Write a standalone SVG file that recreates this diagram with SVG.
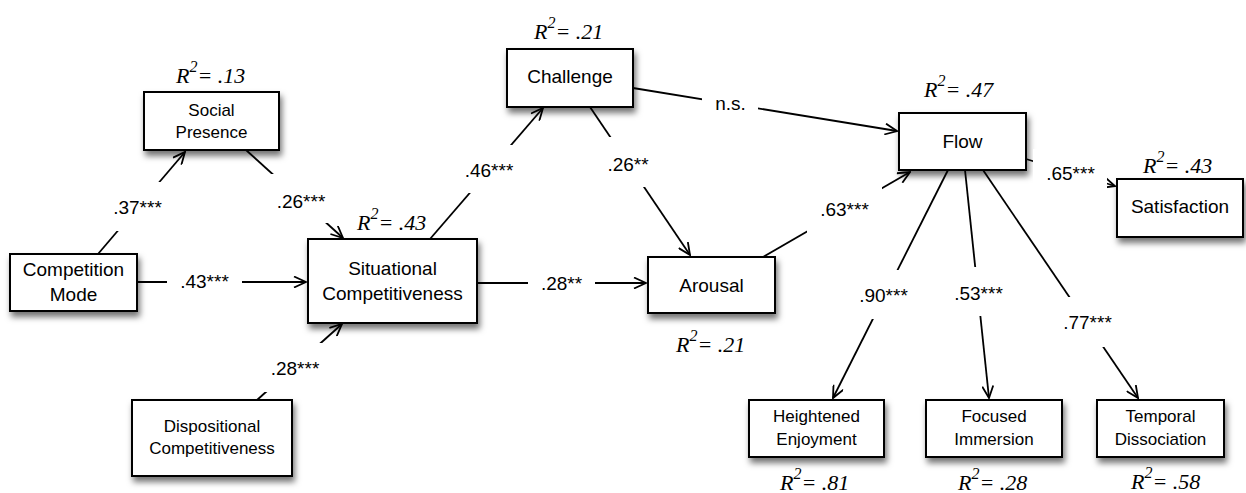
<svg xmlns="http://www.w3.org/2000/svg" width="1246" height="493" viewBox="0 0 1246 493">
<style>
.box{fill:#fff;stroke:#000;stroke-width:2;filter:url(#sh)}
.t{font-family:"Liberation Sans",Arial,sans-serif;font-size:19px;fill:#000;text-anchor:middle}
.s{font-size:17px}
.lbl{font-family:"Liberation Sans",Arial,sans-serif;font-size:19px;fill:#000;text-anchor:middle}
.bg{fill:#fff}
.r2{font-family:"Liberation Serif","Times New Roman",serif;font-style:italic;font-size:22px;fill:#000}
.c{stroke:#000;stroke-width:1.8;fill:none;marker-end:url(#ah)}
</style>
<defs>
<filter id="sh" x="-20%" y="-20%" width="150%" height="160%">
<feDropShadow dx="2" dy="5" stdDeviation="3" flood-color="#000" flood-opacity="0.55"/>
</filter>
<marker id="ah" viewBox="0 0 14 12" refX="13" refY="6" markerWidth="14" markerHeight="12" markerUnits="userSpaceOnUse" orient="auto">
<path d="M1,0.5 L13,6 L1,11.5" fill="none" stroke="#000" stroke-width="1.8"/>
</marker>
</defs>
<rect width="1246" height="493" fill="#fff"/>

<g id="competition-mode">
<rect class="box" x="10" y="254" width="127" height="57"/>
<text class="t" x="73.5" y="276">Competition</text>
<text class="t" x="73.5" y="301">Mode</text>
</g>
<g id="social-presence">
<rect class="box" x="144" y="92" width="135" height="58"/>
<text class="t s" x="211.5" y="116">Social</text>
<text class="t s" x="211.5" y="138">Presence</text>
<text class="r2" x="176" y="83">R<tspan font-size="16" dy="-11">2</tspan><tspan dy="11">= .13</tspan></text>
</g>
<g id="dispositional">
<rect class="box" x="132" y="400" width="160" height="76"/>
<text class="t s" x="212" y="432">Dispositional</text>
<text class="t s" x="212" y="454">Competitiveness</text>
</g>
<g id="situational">
<rect class="box" x="308" y="239" width="169" height="84"/>
<text class="t" x="392.5" y="275">Situational</text>
<text class="t" x="392.5" y="300">Competitiveness</text>
<text class="r2" x="357" y="230">R<tspan font-size="16" dy="-11">2</tspan><tspan dy="11">= .43</tspan></text>
</g>
<g id="challenge">
<rect class="box" x="507" y="49" width="126" height="58"/>
<text class="t" x="570" y="83">Challenge</text>
<text class="r2" x="534" y="39">R<tspan font-size="16" dy="-11">2</tspan><tspan dy="11">= .21</tspan></text>
</g>
<g id="arousal">
<rect class="box" x="648" y="257" width="127" height="56"/>
<text class="t" x="711.5" y="292">Arousal</text>
<text class="r2" x="676" y="352">R<tspan font-size="16" dy="-11">2</tspan><tspan dy="11">= .21</tspan></text>
</g>
<g id="flow">
<rect class="box" x="899" y="113" width="127" height="57"/>
<text class="t" x="962.5" y="148">Flow</text>
<text class="r2" x="924" y="97">R<tspan font-size="16" dy="-11">2</tspan><tspan dy="11">= .47</tspan></text>
</g>
<g id="satisfaction">
<rect class="box" x="1117" y="179" width="126" height="58"/>
<text class="t" x="1180" y="213">Satisfaction</text>
<text class="r2" x="1143" y="173">R<tspan font-size="16" dy="-11">2</tspan><tspan dy="11">= .43</tspan></text>
</g>
<g id="heightened-enjoyment">
<rect class="box" x="749" y="400" width="135" height="57"/>
<text class="t s" x="816.5" y="422">Heightened</text>
<text class="t s" x="816.5" y="445">Enjoyment</text>
<text class="r2" x="780" y="490">R<tspan font-size="16" dy="-11">2</tspan><tspan dy="11">= .81</tspan></text>
</g>
<g id="focused-immersion">
<rect class="box" x="926" y="400" width="136" height="57"/>
<text class="t s" x="994" y="422">Focused</text>
<text class="t s" x="994" y="445">Immersion</text>
<text class="r2" x="958" y="490">R<tspan font-size="16" dy="-11">2</tspan><tspan dy="11">= .28</tspan></text>
</g>
<g id="temporal-dissociation">
<rect class="box" x="1097" y="400" width="127" height="57"/>
<text class="t s" x="1160.5" y="422">Temporal</text>
<text class="t s" x="1160.5" y="445">Dissociation</text>
<text class="r2" x="1131" y="489">R<tspan font-size="16" dy="-11">2</tspan><tspan dy="11">= .58</tspan></text>
</g>

<g id="connectors">
<line class="c" x1="98" y1="254" x2="185" y2="152"/>
<line class="c" x1="137" y1="282" x2="306" y2="282"/>
<line class="c" x1="246" y1="150" x2="343" y2="238"/>
<line class="c" x1="257" y1="400" x2="342" y2="324"/>
<line class="c" x1="430" y1="239" x2="543" y2="108"/>
<line class="c" x1="477" y1="283" x2="646" y2="283"/>
<line class="c" x1="590" y1="107" x2="690" y2="255"/>
<line class="c" x1="633" y1="88" x2="897" y2="131"/>
<line class="c" x1="763" y1="257" x2="910" y2="172"/>
<line class="c" x1="1026" y1="159" x2="1115" y2="186"/>
<line class="c" x1="948" y1="170" x2="833" y2="398"/>
<line class="c" x1="965" y1="170" x2="989" y2="398"/>
<line class="c" x1="983" y1="170" x2="1138" y2="398"/>
</g>

<g id="labels">
<rect class="bg" x="100" y="182" width="75" height="49"/>
<text class="lbl" x="137.5" y="214">.37***</text>
<rect class="bg" x="167" y="258" width="75" height="48"/>
<text class="lbl" x="204.5" y="288">.43***</text>
<rect class="bg" x="264" y="174" width="74" height="49"/>
<text class="lbl" x="301" y="208">.26***</text>
<rect class="bg" x="258" y="343" width="74" height="49"/>
<text class="lbl" x="295" y="375">.28***</text>
<rect class="bg" x="452" y="145" width="74" height="48"/>
<text class="lbl" x="489" y="177">.46***</text>
<rect class="bg" x="597" y="137" width="62" height="50"/>
<text class="lbl" x="628" y="171">.26**</text>
<rect class="bg" x="702" y="81" width="56" height="47"/>
<text class="lbl" x="730.5" y="110">n.s.</text>
<rect class="bg" x="528" y="259" width="67" height="48"/>
<text class="lbl" x="561.5" y="290">.28**</text>
<rect class="bg" x="807" y="185" width="75" height="49"/>
<text class="lbl" x="844.5" y="216">.63***</text>
<rect class="bg" x="846" y="270" width="75" height="49"/>
<text class="lbl" x="883.5" y="302">.90***</text>
<rect class="bg" x="941" y="267" width="75" height="49"/>
<text class="lbl" x="978.5" y="300">.53***</text>
<rect class="bg" x="1050" y="297" width="75" height="50"/>
<text class="lbl" x="1087.5" y="329">.77***</text>
<rect class="bg" x="1033" y="149" width="74" height="48"/>
<text class="lbl" x="1070.5" y="180">.65***</text>
</g>
</svg>
